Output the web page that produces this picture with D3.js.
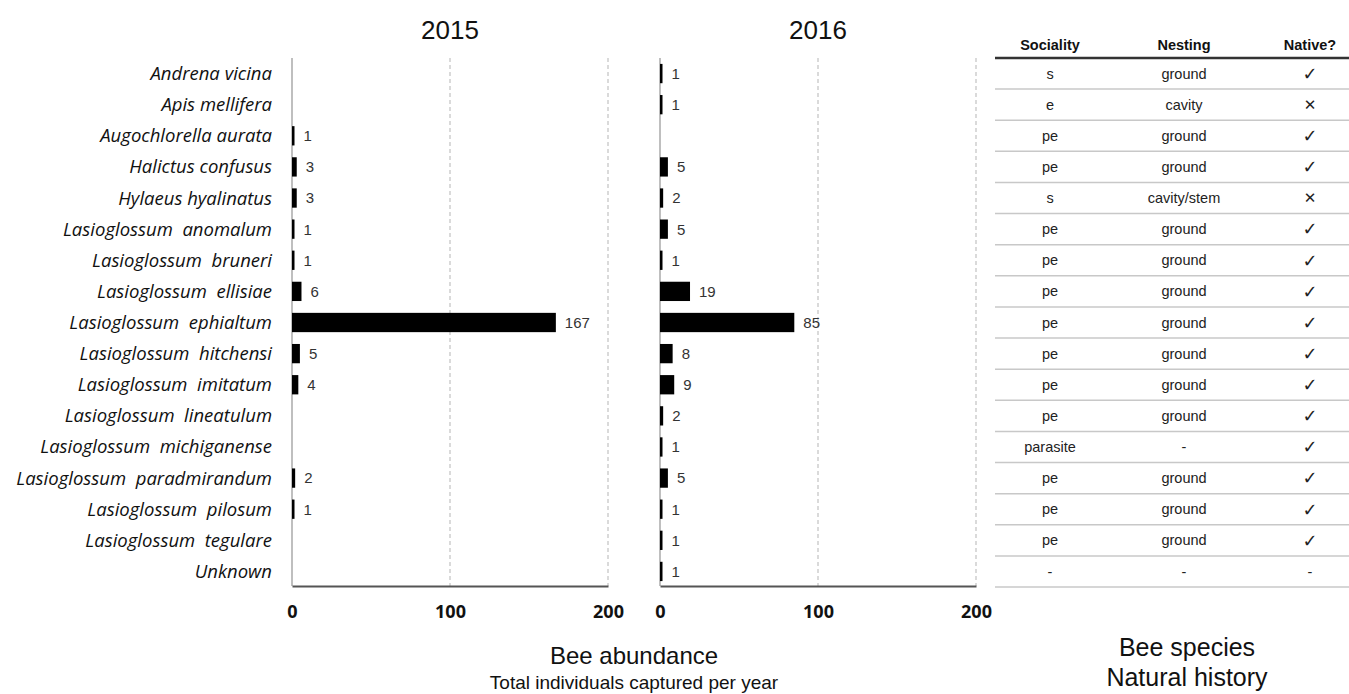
<!DOCTYPE html>
<html>
<head>
<meta charset="utf-8">
<script src="https://cdn.jsdelivr.net/npm/d3@7"></script>
<style>
  body { margin: 0; background: #fff; }
  svg { display: block; }
</style>
</head>
<body>
<svg id="chart"></svg>
<script>
// Species (rows, top to bottom)
const species = [
  "Andrena vicina", "Apis mellifera", "Augochlorella aurata", "Halictus confusus",
  "Hylaeus hyalinatus", "Lasioglossum  anomalum", "Lasioglossum  bruneri",
  "Lasioglossum  ellisiae", "Lasioglossum  ephialtum", "Lasioglossum  hitchensi",
  "Lasioglossum  imitatum", "Lasioglossum  lineatulum", "Lasioglossum  michiganense",
  "Lasioglossum  paradmirandum", "Lasioglossum  pilosum", "Lasioglossum  tegulare",
  "Unknown"
];

// Total individuals captured per year (0 = none captured)
const count2015 = [0, 0, 1, 3, 3, 1, 1, 6, 167, 5, 4, 0, 0, 2, 1, 0, 0];
const count2016 = [1, 1, 0, 5, 2, 5, 1, 19, 85, 8, 9, 2, 1, 5, 1, 1, 1];

// Natural history table
const tableHeaders = ["Sociality", "Nesting", "Native?"];
const sociality = ["s", "e", "pe", "pe", "s", "pe", "pe", "pe", "pe", "pe", "pe", "pe", "parasite", "pe", "pe", "pe", "-"];
const nesting = ["ground", "cavity", "ground", "ground", "cavity/stem", "ground", "ground", "ground",
  "ground", "ground", "ground", "ground", "-", "ground", "ground", "ground", "-"];
const native = ["yes", "no", "yes", "yes", "no", "yes", "yes", "yes", "yes", "yes", "yes", "yes",
  "yes", "yes", "yes", "yes", "-"];

const xTicks = [0, 100, 200];

const width = 1349, height = 694;
const arial = "'Liberation Sans', Arial, sans-serif";

const svg = d3.select("#chart")
  .attr("width", width)
  .attr("height", height);

const y = d3.scaleBand()
  .domain(species)
  .range([58, 587])
  .paddingInner(0.38)
  .paddingOuter(0.19);

const rowY = d3.scaleBand()
  .domain(species)
  .range([58, 587]);

// species labels
svg.append("g")
  .selectAll("text")
  .data(species)
  .enter()
  .append("text")
  .attr("x", 272)
  .attr("y", d => rowY(d) + rowY.bandwidth() / 2)
  .attr("dy", "0.35em")
  .attr("text-anchor", "end")
  .attr("font-family", "'Open Sans', Lato, sans-serif")
  .attr("font-style", "italic")
  .attr("font-size", "18.5px")
  .attr("fill", "#111")
  .style("white-space", "pre")
  .text(d => d);

const panels = [
  { year: "2015", values: count2015, range: [292, 608] },
  { year: "2016", values: count2016, range: [660, 976] }
];

panels.forEach(p => {
  const x = d3.scaleLinear().domain([0, 200]).range(p.range);
  const g = svg.append("g");
  const top = 58, bottom = 586;

  // dashed gridlines at 100 and 200
  g.selectAll(".grid")
    .data(xTicks.slice(1))
    .enter()
    .append("line")
    .attr("x1", d => x(d)).attr("x2", d => x(d))
    .attr("y1", top).attr("y2", bottom)
    .attr("stroke", "#b5b5b5")
    .attr("stroke-width", 1)
    .attr("stroke-dasharray", "4,3");

  // left baseline
  g.append("line")
    .attr("x1", x(0)).attr("x2", x(0))
    .attr("y1", top).attr("y2", bottom)
    .attr("stroke", "#aaa")
    .attr("stroke-width", 1.5);

  // bottom axis
  const axis = g.append("g")
    .attr("transform", `translate(0,${bottom})`)
    .call(d3.axisBottom(x).tickValues(xTicks).tickSize(0).tickPadding(19));
  axis.select(".domain").attr("stroke", "#555").attr("stroke-width", 2);
  axis.selectAll("text")
    .attr("font-family", "'Open Sans', Lato, sans-serif")
    .attr("font-weight", "bold")
    .attr("font-size", "18px")
    .attr("fill", "#111");

  const rows = species.map((s, i) => ({ name: s, value: p.values[i] })).filter(d => d.value > 0);

  g.selectAll(".bar")
    .data(rows)
    .enter()
    .append("rect")
    .attr("x", x(0))
    .attr("y", d => y(d.name))
    .attr("width", d => Math.max(x(d.value) - x(0), 2.5))
    .attr("height", y.bandwidth())
    .attr("fill", "#000");

  g.selectAll(".val")
    .data(rows)
    .enter()
    .append("text")
    .attr("x", d => x(0) + Math.max(x(d.value) - x(0), 2.5) + 9)
    .attr("y", d => y(d.name) + y.bandwidth() / 2)
    .attr("dy", "0.36em")
    .attr("font-family", arial)
    .attr("font-size", "15px")
    .attr("fill", "#333")
    .text(d => d.value);

  // year title
  svg.append("text")
    .attr("x", x(100))
    .attr("y", 39)
    .attr("text-anchor", "middle")
    .attr("font-family", arial)
    .attr("font-size", "26px")
    .attr("fill", "#111")
    .text(p.year);
});

// x axis titles
svg.append("text")
  .attr("x", 634).attr("y", 664)
  .attr("text-anchor", "middle")
  .attr("font-family", arial)
  .attr("font-size", "24px")
  .attr("fill", "#111")
  .text("Bee abundance");
svg.append("text")
  .attr("x", 634).attr("y", 689)
  .attr("text-anchor", "middle")
  .attr("font-family", arial)
  .attr("font-size", "19px")
  .attr("fill", "#111")
  .text("Total individuals captured per year");

// natural history table
const colX = [1050, 1184, 1310];
const table = svg.append("g");

table.selectAll(".hdr")
  .data(tableHeaders)
  .enter()
  .append("text")
  .attr("x", (d, i) => colX[i])
  .attr("y", 50)
  .attr("text-anchor", "middle")
  .attr("font-family", arial)
  .attr("font-weight", "bold")
  .attr("font-size", "14.5px")
  .attr("fill", "#111")
  .text(d => d);

table.append("line")
  .attr("x1", 995).attr("x2", 1349)
  .attr("y1", 58).attr("y2", 58)
  .attr("stroke", "#333")
  .attr("stroke-width", 2.5);

table.selectAll(".rowline")
  .data(species)
  .enter()
  .append("line")
  .attr("x1", 995).attr("x2", 1349)
  .attr("y1", d => rowY(d) + rowY.bandwidth())
  .attr("y2", d => rowY(d) + rowY.bandwidth())
  .attr("stroke", "#c8c8c8")
  .attr("stroke-width", 1.5);

const symbol = { yes: "\u2713", no: "\u2715", "-": "-" };
const cells = species.map((s, i) => [sociality[i], nesting[i], native[i]]);

cells.forEach((row, i) => {
  const cy = rowY(species[i]) + rowY.bandwidth() / 2;
  row.forEach((v, j) => {
    const isSym = j === 2 && v !== "-";
    table.append("text")
      .attr("x", colX[j])
      .attr("y", cy)
      .attr("dy", "0.35em")
      .attr("text-anchor", "middle")
      .attr("font-family", isSym ? "'DejaVu Sans', sans-serif" : arial)
      .attr("font-size", isSym ? (v === "yes" ? "18px" : "15px") : "14.5px")
      .attr("fill", "#222")
      .text(j === 2 ? symbol[v] : v);
  });
});

svg.append("text")
  .attr("x", 1187).attr("y", 656)
  .attr("text-anchor", "middle")
  .attr("font-family", arial)
  .attr("font-size", "25px")
  .attr("fill", "#111")
  .text("Bee species");
svg.append("text")
  .attr("x", 1187).attr("y", 686)
  .attr("text-anchor", "middle")
  .attr("font-family", arial)
  .attr("font-size", "25px")
  .attr("fill", "#111")
  .text("Natural history");
</script>
</body>
</html>
